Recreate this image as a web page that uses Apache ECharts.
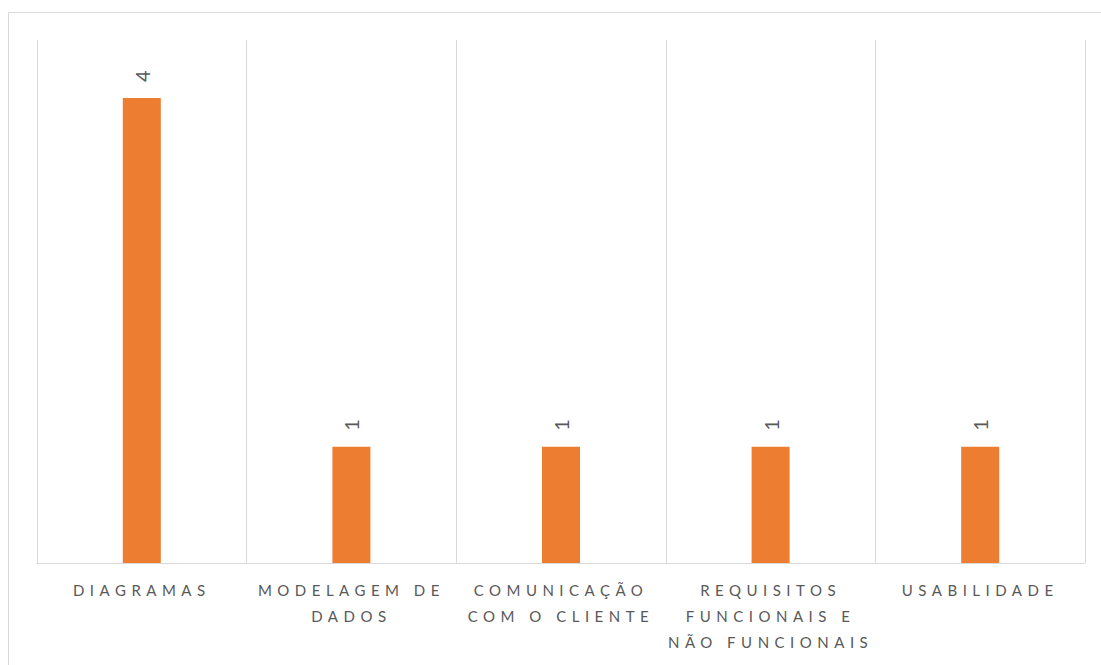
<!DOCTYPE html>
<html>
<head>
<meta charset="utf-8">
<script src="https://cdn.jsdelivr.net/npm/echarts@6/dist/echarts.min.js"></script>
<style>
  html, body { margin: 0; padding: 0; background: #ffffff; }
  #chart { width: 1101px; height: 665px; }
  /* spaced-out caps for every label */
  #chart svg text { letter-spacing: 5.5px; }
</style>
</head>
<body>
<div id="chart"></div>
<script>
// Topics and how many times each was mentioned
const categories = [
  'DIAGRAMAS',
  'MODELAGEM DE DADOS',
  'COMUNICAÇÃO COM O CLIENTE',
  'REQUISITOS FUNCIONAIS E NÃO FUNCIONAIS',
  'USABILIDADE'
];
const categoryLabels = [
  'DIAGRAMAS',
  'MODELAGEM DE\nDADOS',
  'COMUNICAÇÃO\nCOM O CLIENTE',
  'REQUISITOS\nFUNCIONAIS E\nNÃO FUNCIONAIS',
  'USABILIDADE'
];
const counts = [4, 1, 1, 1, 1];

const textColor = '#595959';
const lineColor = '#d9d9d9';
const fontStack = 'Lato, "Liberation Sans", sans-serif';

const chart = echarts.init(document.getElementById('chart'), null, { renderer: 'svg' });

chart.setOption({
  backgroundColor: '#ffffff',
  animation: false,
  graphic: [{
    type: 'rect',
    shape: { x: 8.5, y: 12.5, width: 1120, height: 680 },
    style: { fill: 'none', stroke: lineColor, lineWidth: 1 },
    silent: true
  }],
  grid: { left: 37, right: 16, top: 40, bottom: 102 },
  xAxis: {
    type: 'category',
    data: categories,
    boundaryGap: true,
    axisLine: { show: true, lineStyle: { color: lineColor, width: 1 } },
    axisTick: { show: false },
    splitLine: { show: true, lineStyle: { color: lineColor, width: 1 } },
    axisLabel: {
      interval: 0,
      margin: 14,
      color: textColor,
      fontFamily: fontStack,
      fontSize: 15,
      lineHeight: 26,
      align: 'center',
      formatter: function (value, idx) { return categoryLabels[idx]; }
    }
  },
  yAxis: {
    type: 'value',
    min: 0,
    max: 4.5,
    show: false,
    splitLine: { show: false }
  },
  series: [{
    type: 'bar',
    data: counts,
    barWidth: 38,
    itemStyle: { color: '#ED7D31' },
    label: {
      show: true,
      position: 'top',
      rotate: 90,
      align: 'left',
      verticalAlign: 'middle',
      distance: 16,
      color: textColor,
      fontFamily: fontStack,
      fontSize: 20
    }
  }]
});
</script>
</body>
</html>
